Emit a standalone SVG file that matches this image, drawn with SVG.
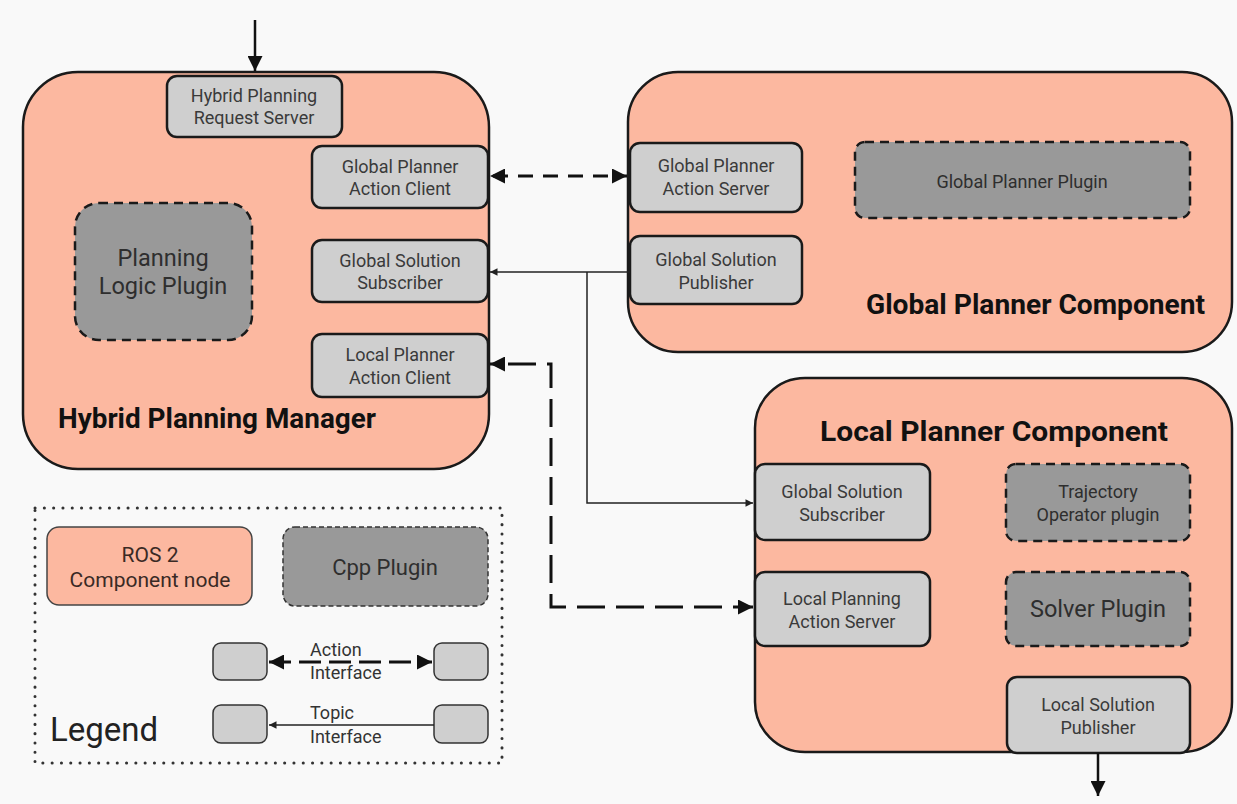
<svg xmlns="http://www.w3.org/2000/svg" width="1237" height="804" viewBox="0 0 1237 804">
  <defs>
    <style>
      .comp { fill: #fcb8a0; stroke: #1a1a1a; stroke-width: 2.5; }
      .port { fill: #cfcfcf; stroke: #1a1a1a; stroke-width: 2.5; }
      .plug { fill: #999999; stroke: #1a1a1a; stroke-width: 2.5; stroke-dasharray: 9 6; }
      .lbl { font-family: Roboto, "Liberation Sans", sans-serif; font-size: 18px; fill: #3a3a3a; text-anchor: middle; }
      .big { font-family: Roboto, "Liberation Sans", sans-serif; font-size: 23.5px; fill: #2e2e2e; text-anchor: middle; }
      .title { font-family: Roboto, "Liberation Sans", sans-serif; font-size: 27px; font-weight: bold; fill: #111; }
      .leg { font-family: Roboto, "Liberation Sans", sans-serif; font-size: 18px; fill: #333; }
      .action { fill: none; stroke: #111; stroke-width: 3; }
      .topic { fill: none; stroke: #222; stroke-width: 1.5; }
      .solid { fill: none; stroke: #111; stroke-width: 2.5; }
    </style>
    <marker id="big-head" viewBox="0 0 10 10" refX="10" refY="5" markerWidth="7" markerHeight="5" markerUnits="strokeWidth" orient="auto-start-reverse">
      <path d="M0,0 L10,5 L0,10 z" fill="#111"/>
    </marker>
    <marker id="small-head" viewBox="0 0 10 10" refX="10" refY="5" markerWidth="6" markerHeight="5" markerUnits="strokeWidth" orient="auto">
      <path d="M0,0 L10,5 L0,10 z" fill="#222"/>
    </marker>
    <marker id="io-head" viewBox="0 0 10 10" refX="10" refY="5" markerWidth="6" markerHeight="6" markerUnits="strokeWidth" orient="auto">
      <path d="M0,0 L10,5 L0,10 z" fill="#111"/>
    </marker>
  </defs>

  <rect width="1237" height="804" fill="#f9f9f9"/>

  <!-- Hybrid Planning Manager -->
  <g id="hybrid-planning-manager">
    <rect class="comp" x="23" y="72" width="466" height="397" rx="55"/>
    <text class="title" x="58" y="428" textLength="318" lengthAdjust="spacingAndGlyphs">Hybrid Planning Manager</text>
  </g>
  <g id="hp-request-server">
    <rect class="port" x="167" y="76" width="175" height="61" rx="10"/>
    <text class="lbl" x="254" y="102">Hybrid Planning</text>
    <text class="lbl" x="254" y="124">Request Server</text>
  </g>
  <g id="gp-action-client">
    <rect class="port" x="312" y="146" width="176" height="62" rx="10"/>
    <text class="lbl" x="400" y="173">Global Planner</text>
    <text class="lbl" x="400" y="195">Action Client</text>
  </g>
  <g id="gs-subscriber-hpm">
    <rect class="port" x="312" y="240" width="176" height="62" rx="10"/>
    <text class="lbl" x="400" y="267">Global Solution</text>
    <text class="lbl" x="400" y="289">Subscriber</text>
  </g>
  <g id="lp-action-client">
    <rect class="port" x="312" y="334" width="176" height="63" rx="10"/>
    <text class="lbl" x="400" y="361">Local Planner</text>
    <text class="lbl" x="400" y="384">Action Client</text>
  </g>
  <g id="planning-logic-plugin">
    <rect class="plug" x="75" y="203" width="177" height="137" rx="24"/>
    <text class="big" x="163" y="266">Planning</text>
    <text class="big" x="163" y="294">Logic Plugin</text>
  </g>

  <!-- Global Planner Component -->
  <g id="global-planner-component">
    <rect class="comp" x="628" y="72" width="604" height="280" rx="50"/>
    <text class="title" x="866" y="314" textLength="339" lengthAdjust="spacingAndGlyphs">Global Planner Component</text>
  </g>
  <g id="gp-action-server">
    <rect class="port" x="630" y="143" width="172" height="69" rx="10"/>
    <text class="lbl" x="716" y="172">Global Planner</text>
    <text class="lbl" x="716" y="195">Action Server</text>
  </g>
  <g id="gs-publisher">
    <rect class="port" x="630" y="236" width="172" height="68" rx="10"/>
    <text class="lbl" x="716" y="266">Global Solution</text>
    <text class="lbl" x="716" y="289">Publisher</text>
  </g>
  <g id="global-planner-plugin">
    <rect class="plug" x="855" y="142" width="335" height="76" rx="10"/>
    <text class="lbl" x="1022" y="188" style="fill:#2e2e2e">Global Planner Plugin</text>
  </g>

  <!-- Local Planner Component -->
  <g id="local-planner-component">
    <rect class="comp" x="755" y="378" width="477" height="374" rx="50"/>
    <text class="title" x="820" y="441" textLength="348" lengthAdjust="spacingAndGlyphs">Local Planner Component</text>
  </g>
  <g id="gs-subscriber-lpc">
    <rect class="port" x="755" y="464" width="175" height="76" rx="10"/>
    <text class="lbl" x="842" y="498">Global Solution</text>
    <text class="lbl" x="842" y="521">Subscriber</text>
  </g>
  <g id="lp-action-server">
    <rect class="port" x="755" y="572" width="175" height="74" rx="10"/>
    <text class="lbl" x="842" y="605">Local Planning</text>
    <text class="lbl" x="842" y="628">Action Server</text>
  </g>
  <g id="trajectory-operator-plugin">
    <rect class="plug" x="1006" y="464" width="184" height="77" rx="10"/>
    <text class="lbl" x="1098" y="498" style="fill:#2e2e2e">Trajectory</text>
    <text class="lbl" x="1098" y="521" style="fill:#2e2e2e">Operator plugin</text>
  </g>
  <g id="solver-plugin">
    <rect class="plug" x="1006" y="572" width="184" height="74" rx="10"/>
    <text class="big" x="1098" y="617">Solver Plugin</text>
  </g>
  <g id="local-solution-publisher">
    <rect class="port" x="1007" y="677" width="183" height="76" rx="10"/>
    <text class="lbl" x="1098" y="711">Local Solution</text>
    <text class="lbl" x="1098" y="734">Publisher</text>
  </g>

  <!-- Connectors -->
  <g id="connectors">
    <!-- request into the manager, solution out of the local planner -->
    <path class="solid" d="M255,20 V71" marker-end="url(#io-head)"/>
    <path class="solid" d="M1098,753 V796" marker-end="url(#io-head)"/>
    <!-- global planner action -->
    <path class="action" d="M490,176 H627" stroke-dasharray="15 10" stroke-dashoffset="-3" marker-start="url(#big-head)" marker-end="url(#big-head)"/>
    <!-- global solution topic -->
    <path class="topic" d="M630,272 H490" marker-end="url(#small-head)"/>
    <path class="topic" d="M587,272 V503 H753" marker-end="url(#small-head)"/>
    <!-- local planner action -->
    <path class="action" d="M490,364 H551 V607 H753" stroke-dasharray="28 11" stroke-dashoffset="-18" marker-start="url(#big-head)" marker-end="url(#big-head)"/>
  </g>

  <!-- Legend -->
  <g id="legend">
    <rect x="35" y="508" width="467" height="255" fill="none" stroke="#333" stroke-width="3" stroke-dasharray="0.1 9.2" stroke-linecap="round"/>
    <text x="50" y="741" font-family="Roboto, 'Liberation Sans', sans-serif" font-size="33" fill="#222">Legend</text>
  </g>
  <g id="legend-component">
    <rect class="comp" x="47" y="527" width="205" height="78" rx="12" style="stroke-width:1.5;stroke:#444"/>
    <text class="lbl" x="150" y="562" style="font-size:21px;fill:#3a2a25">ROS 2</text>
    <text class="lbl" x="150" y="587" style="font-size:21px;fill:#3a2a25">Component node</text>
  </g>
  <g id="legend-plugin">
    <rect class="plug" x="283" y="527" width="205" height="79" rx="12" style="stroke-width:1.5;stroke-dasharray:5 3;stroke:#333"/>
    <text class="lbl" x="385" y="575" style="font-size:22px;fill:#2e2e2e">Cpp Plugin</text>
  </g>
  <g id="legend-action">
    <rect class="port" x="213" y="643" width="54" height="37" rx="8" style="stroke-width:1.5;stroke:#333"/>
    <rect class="port" x="434" y="643" width="54" height="37" rx="8" style="stroke-width:1.5;stroke:#333"/>
    <path class="action" d="M269,662 H432" stroke-dasharray="22 8" marker-start="url(#big-head)" marker-end="url(#big-head)"/>
    <text class="leg" x="310" y="656">Action</text>
    <text class="leg" x="310" y="679">Interface</text>
  </g>
  <g id="legend-topic">
    <rect class="port" x="213" y="705" width="54" height="38" rx="8" style="stroke-width:1.5;stroke:#333"/>
    <rect class="port" x="434" y="705" width="54" height="38" rx="8" style="stroke-width:1.5;stroke:#333"/>
    <path class="topic" d="M434,725 H269" marker-end="url(#small-head)"/>
    <text class="leg" x="310" y="719">Topic</text>
    <text class="leg" x="310" y="743">Interface</text>
  </g>
</svg>
